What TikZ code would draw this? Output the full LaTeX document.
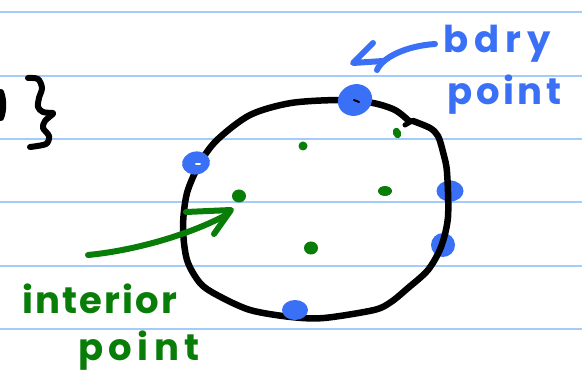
\documentclass[tikz,border=0pt]{standalone}
\usepackage{fontspec}
\usetikzlibrary{shapes.geometric}
\newfontfamily\hand{Poppins}[LetterSpace=8]
\definecolor{rule}{RGB}{163,204,250}
\definecolor{inkblue}{RGB}{58,112,246}
\definecolor{inkgreen}{RGB}{8,125,8}
\begin{document}
\begin{tikzpicture}[x=1pt,y=-1pt,
  ink/.style={line width=6pt, line cap=round, line join=round},
  bdot/.style={ellipse, fill=inkblue, inner sep=0pt},
  gdot/.style={ellipse, fill=inkgreen, inner sep=0pt},
  word/.style={anchor=base west, inner sep=0pt, font=\hand\bfseries\fontsize{37}{37}\selectfont}]
  \useasboundingbox (0,0) rectangle (582,377);
  \fill[white] (0,0) rectangle (582,377);
  % ruled paper
  \foreach \y in {12.5,76,139,202.5,266,329}
    \draw[rule, line width=2pt] (0,\y) -- (582,\y);

  % end of the set
  \draw[ink] (1,92) .. controls (4,100) and (4,110) .. (1,118);
  \draw[ink] plot[smooth] coordinates {(28,78) (38,79) (42,88) (39,98) (38,107) (43,112) (53,113)};
  \draw[ink] plot[smooth] coordinates {(53,114) (45,121) (43,128) (49,136) (46,144) (30,147)};

  % the region
  \node[bdot, minimum width=27pt, minimum height=21pt] (br1) at (450,191) {};
  \node[bdot, minimum width=24pt, minimum height=24pt] (br2) at (443,245) {};
  \draw[ink, line width=6.5pt] plot[smooth] coordinates {(413,121) (430,128) (438,136) (443,152) (447,172) (448,217)
    (441,247) (428,270) (408,288) (391,302) (374,310) (324,318) (291,317) (250,310) (217,295)
    (200,283) (187,260) (183,227) (187,193) (200,163) (217,140) (250,115) (291,103) (341,100)
    (373,103) (395,110) (409,121)};
  \draw[ink, line width=5pt] (405,125) -- (412,121);
  \node[bdot, minimum width=35pt, minimum height=31pt, rotate=25] (btop) at (355,100) {};
  \draw[line width=2pt, line cap=round] (354,100) -- (359,102);
  \node[bdot, minimum width=28pt, minimum height=23pt, rotate=10] (bleft) at (196,163) {};
  \draw[white, line width=2pt, line cap=round] (196,164) -- (200,164);
  \node[bdot, minimum width=26pt, minimum height=20pt] (bbot) at (295,310) {};

  % interior points
  \node[gdot, minimum width=14pt, minimum height=13pt] (g1) at (239,196) {};
  \node[gdot, minimum width=9pt, minimum height=9pt] (g2) at (303,146) {};
  \node[gdot, minimum width=8pt, minimum height=11pt, rotate=20] (g3) at (397,133) {};
  \node[gdot, minimum width=14pt, minimum height=10pt] (g4) at (385,191) {};
  \node[gdot, minimum width=14pt, minimum height=13pt] (g5) at (311,248) {};

  % labels
  \node[word, inkblue] (bdry) at (443,53) {\addfontfeature{LetterSpace=16}bdry};
  \node[word, inkblue] (bpoint) at (447,105) {\addfontfeature{LetterSpace=10}point};
  \node[word, inkgreen] (interior) at (22,313) {\addfontfeature{LetterSpace=6}interior};
  \node[word, inkgreen] (ipoint) at (78,360) {\addfontfeature{LetterSpace=15}point};

  % arrows
  \coordinate (btail) at (435,44);
  \coordinate (btip) at (353,63);
  \draw[ink, inkblue] (btail) .. controls (405,46) and (382,58) .. (377,70);
  \draw[ink, inkblue] (373,43) -- (btip) -- (383,61);
  \coordinate (gtail) at (88,255);
  \coordinate (gtip) at (231,210);
  \draw[ink, inkgreen] (gtail) .. controls (140,250) and (195,232) .. (226,215);
  \draw[ink, inkgreen] (186,212) -- (gtip) -- (214,234);
\end{tikzpicture}
\end{document}
